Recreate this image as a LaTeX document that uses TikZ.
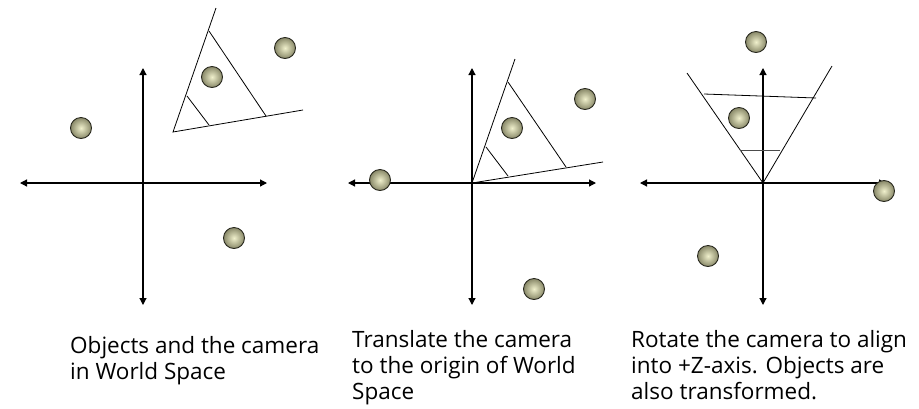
\documentclass[tikz,border=0pt]{standalone}
\usepackage{fontspec}
\setmainfont{Open Sans}
\usetikzlibrary{arrows.meta}
\definecolor{ballin}{RGB}{240,240,204}
\definecolor{ballout}{RGB}{136,136,104}
\definecolor{ballrim}{RGB}{40,40,30}
\begin{document}
\begin{tikzpicture}[x=1pt,y=-1pt,
  ball/.style={circle, minimum size=21pt, inner sep=0pt, draw=ballrim, line width=0.9pt, inner color=ballin, outer color=ballout},
  axis/.style={line width=1.2pt, {Triangle[length=7pt,width=7pt]}-{Triangle[length=7pt,width=7pt]}},
  cam/.style={line width=0.8pt, black},
  caption/.style={anchor=base west, align=left, inner sep=0pt, font=\fontsize{22.5}{26}\selectfont}]
\useasboundingbox (0,0) rectangle (919,408);

% ---------- panel 1 ----------
\coordinate (l1) at (20,183);  \coordinate (r1) at (267,183);
\coordinate (t1) at (143,68);  \coordinate (d1) at (143,305);
\draw[axis] (l1) -- (r1);
\draw[axis] (t1) -- (d1);
\coordinate (c1) at (173,132);
\coordinate (c1l) at (216,8);   \coordinate (c1r) at (303,110);
\coordinate (f1a) at (209,31);  \coordinate (f1b) at (266,116);
\coordinate (n1a) at (187,96);  \coordinate (n1b) at (209,125);
\draw[cam] (c1l) -- (c1) -- (c1r);
\draw[cam] (f1a) -- (f1b);
\draw[cam] (n1a) -- (n1b);
\node[ball] (p1a) at (81,128) {};
\node[ball] (p1b) at (212,77) {};
\node[ball] (p1c) at (285,48) {};
\node[ball] (p1d) at (234,238) {};

% ---------- panel 2 ----------
\coordinate (l2) at (348,183);  \coordinate (r2) at (596,183);
\coordinate (t2) at (472,68);   \coordinate (d2) at (472,305);
\draw[axis] (l2) -- (r2);
\draw[axis] (t2) -- (d2);
\coordinate (c2) at (472,183);
\coordinate (c2l) at (515,59);  \coordinate (c2r) at (603,162);
\coordinate (f2a) at (508,82);  \coordinate (f2b) at (566,167);
\coordinate (n2a) at (486,147); \coordinate (n2b) at (508,176);
\draw[cam] (c2l) -- (c2) -- (c2r);
\draw[cam] (f2a) -- (f2b);
\draw[cam] (n2a) -- (n2b);
\node[ball] (p2a) at (380,180) {};
\node[ball] (p2b) at (512,128) {};
\node[ball] (p2c) at (585,99) {};
\node[ball] (p2d) at (534,289) {};

% ---------- panel 3 ----------
\coordinate (l3) at (640,183);  \coordinate (r3) at (886,183);
\coordinate (t3) at (763,68);   \coordinate (d3) at (763,305);
\draw[axis] (l3) -- (r3);
\draw[axis] (t3) -- (d3);
\coordinate (c3) at (763,183);
\coordinate (c3l) at (687,73);  \coordinate (c3r) at (832,66);
\coordinate (f3a) at (704,94);  \coordinate (f3b) at (816,98);
\coordinate (n3a) at (740,150); \coordinate (n3b) at (780,150);
\draw[cam] (c3l) -- (c3) -- (c3r);
\draw[cam] (f3a) -- (f3b);
\draw[cam, black!70] (n3a) -- (n3b);
\node[ball] (p3a) at (756,42) {};
\node[ball] (p3b) at (739,118) {};
\node[ball] (p3c) at (884,191) {};
\node[ball] (p3d) at (708,256) {};

% ---------- captions (anchor = baseline of last line) ----------
\node[caption] (txt1) at (70,379) {Objects and the camera\\in World Space};
\node[caption] (txt2) at (352,399) {Translate the camera\\to the origin of World\\Space};
\node[caption] (txt3) at (631,399) {Rotate the camera to align\\into +Z-axis. Objects are\\also transformed.};
\end{tikzpicture}
\end{document}
